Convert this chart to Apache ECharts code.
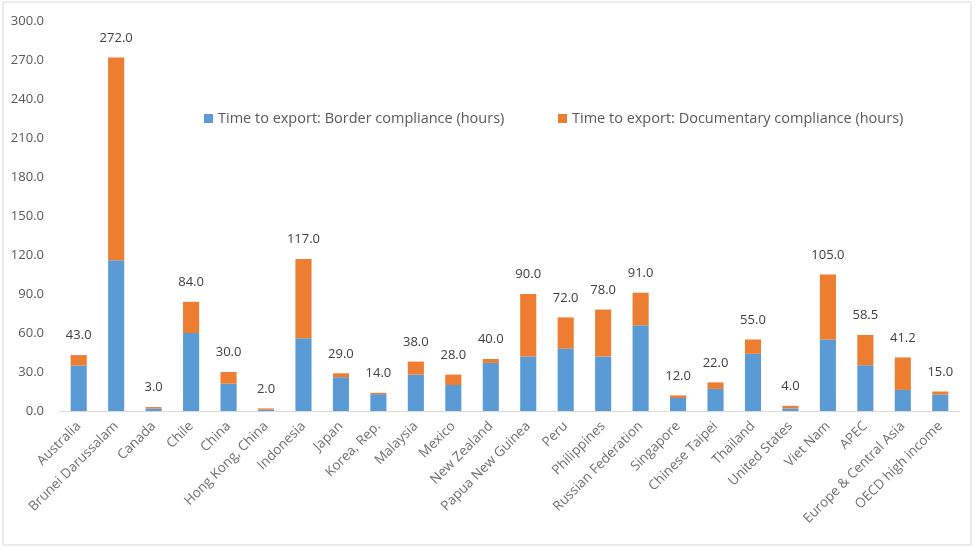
<!DOCTYPE html>
<html><head><meta charset="utf-8">
<script src="https://cdn.jsdelivr.net/npm/echarts@6/dist/echarts.min.js"></script>
<style>html,body{margin:0;padding:0;background:#fff}#c{width:975px;height:548px}</style>
</head><body><div id="c"></div>
<script>
const categories = ["Australia","Brunei Darussalam","Canada","Chile","China","Hong Kong, China","Indonesia","Japan","Korea, Rep.","Malaysia","Mexico","New Zealand","Papua New Guinea","Peru","Philippines","Russian Federation","Singapore","Chinese Taipei","Thailand","United States","Viet Nam","APEC","Europe & Central Asia","OECD high income"];
const border = [35,116,2,60,21,1,56,26,13,28,20,37,42,48,42,66,10,17,44,2,55,35.2,16.2,12.7];
const documentary = [8,156,1,24,9,1,61,3,1,10,8,3,48,24,36,25,2,5,11,2,50,23.3,25.0,2.3];
const totals = [43,272,3,84,30,2,117,29,14,38,28,40,90,72,78,91,12,22,55,4,105,58.5,41.2,15.0];
const yTicks = {min:0, max:300, interval:30};
const seriesNames = ["Time to export: Border compliance (hours)","Time to export: Documentary compliance (hours)"];

const chart = echarts.init(document.getElementById('c'));
const font = "'Open Sans', 'Noto Sans', sans-serif";
chart.setOption({
  animation:false,
  textStyle:{fontFamily:font},
  graphic:[{type:'rect',shape:{x:3,y:2,width:968,height:543},style:{fill:'none',stroke:'#d9d9d9',lineWidth:1},silent:true}],
  legend:[
    {data:[seriesNames[0]],left:199,top:106,itemWidth:9,itemHeight:9,itemGap:6,icon:'rect',textStyle:{color:'#595959',fontSize:14.5,fontFamily:font}},
    {data:[seriesNames[1]],left:553,top:106,itemWidth:9,itemHeight:9,icon:'rect',textStyle:{color:'#595959',fontSize:14.5,fontFamily:font}}
  ],
  grid:{left:60,right:16,top:21,bottom:137,containLabel:false},
  xAxis:{type:'category',data:categories,
    axisLine:{lineStyle:{color:'#d9d9d9'}},axisTick:{show:false},
    axisLabel:{rotate:45,color:'#707070',fontSize:13.5,interval:0,margin:13,fontFamily:font}},
  yAxis:{type:'value',min:yTicks.min,max:yTicks.max,interval:yTicks.interval,
    splitLine:{show:false},axisLine:{show:false},axisTick:{show:false},
    axisLabel:{color:'#595959',fontSize:13,margin:16,formatter:v=>v.toFixed(1),fontFamily:font}},
  series:[
    {name:seriesNames[0],type:'bar',stack:'a',data:border,barWidth:'43%',itemStyle:{color:'#5b9bd5'}},
    {name:seriesNames[1],type:'bar',stack:'a',data:documentary,barWidth:'43%',itemStyle:{color:'#ed7d31'},
      label:{show:true,position:'top',distance:13,color:'#404040',fontSize:13,fontFamily:font,
        formatter:p=>totals[p.dataIndex].toFixed(1)}}
  ]
});
</script></body></html>
